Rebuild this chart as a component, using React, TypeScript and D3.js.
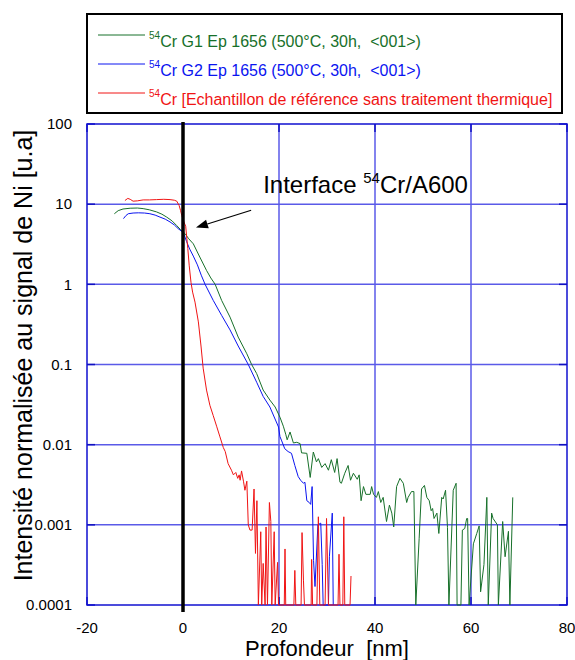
import React from "react";
import * as d3 from "d3";

// [depth nm, normalised intensity]; 0 = below axis (no signal)
const g1Data: [number, number][] = [
  [-14.3, 7.6], [-13.5, 8.3], [-12.5, 8.7], [-11, 8.9], [-9.5, 8.95], [-8.3, 8.8], [-7, 8.5], [-5.5, 8.0],
  [-4.4, 7.5], [-3.4, 6.9], [-2.3, 6.2], [-1.3, 5.4], [-0.5, 4.8], [0.4, 4.3], [1.2, 3.7], [2.15, 3.2],
  [3.5, 2.19], [4.9, 1.49], [5.8, 1.2], [6.7, 1.0], [8.05, 0.63], [9.8, 0.39], [11.5, 0.22], [13.3, 0.136],
  [14.3, 0.1], [15.35, 0.077], [16.7, 0.048], [18.1, 0.036], [19.2, 0.0295], [20.2, 0.022], [20.9, 0.017],
  [21.4, 0.0135], [21.7, 0.0115], [22.3, 0.0144], [23.0, 0.0105], [23.7, 0.0107], [24.4, 0.0103], [24.7, 0.0079],
  [25.8, 0.0078], [26.5, 0.0039], [27.15, 0.0081], [27.8, 0.0061], [28.2, 0.0067], [28.9, 0.0052], [29.6, 0.0058],
  [30.3, 0.0048], [30.9, 0.0065], [31.6, 0.0045], [32.1, 0.0067], [32.7, 0.0034], [33.0, 0.0033], [33.7, 0.0044],
  [34.4, 0.0055], [34.9, 0.0036], [35.5, 0.0044], [36.3, 0.0037], [36.7, 0.0042], [37.1, 0.002], [37.6, 0.003],
  [38.1, 0.0024], [39.0, 0.0024], [39.3, 0.003], [39.7, 0.0024], [40.3, 0.0022], [40.7, 0.0026], [41.2, 0.0019],
  [41.7, 0.0022], [42.4, 0.0011], [43.0, 0.00176], [43.5, 0.0014], [43.9, 0.00094], [44.5, 0.003], [45.2, 0.0038],
  [45.9, 0.0033], [46.6, 0.0019], [46.9, 0.0022], [47.6, 0.0026], [48.1, 0.0026], [48.5, 0], [49.2, 0.00068],
  [49.7, 0.0028], [50.3, 0.0031], [50.8, 0.0022], [51.3, 0.002], [51.7, 0.0015], [52.0, 0.0016], [52.3, 0.0012],
  [52.9, 0.0014], [53.3, 0.00078], [53.9, 0.0022], [54.2, 0.0021], [54.7, 0.0027], [55.1, 0.00093], [55.4, 0],
  [56.3, 0.0027], [56.9, 0.0033], [57.1, 0], [57.9, 0], [58.2, 0.00086], [58.7, 0.0009], [59.1, 0.0012],
  [59.3, 0.0012], [59.6, 0], [60.5, 0.00058], [61.2, 0.00078], [61.7, 0.00097], [62.0, 0.000146], [62.7, 0.00032],
  [63.3, 0.0022], [63.6, 0], [64.3, 0.0014], [64.6, 0.0012], [65.5, 0.001], [65.7, 0], [66.6, 0.0011],
  [67.1, 0.0004], [67.8, 0.00083], [68.1, 0], [68.7, 0.0022],
];

const g2Data: [number, number][] = [
  [-12.4, 6.6], [-11.9, 7.2], [-11.4, 7.6], [-10.4, 7.75], [-9.3, 7.8], [-8, 7.75], [-6.9, 7.6], [-5.8, 7.3],
  [-4.8, 6.9], [-3.7, 6.5], [-2.7, 6.0], [-1.8, 5.5], [-1, 4.95], [-0.3, 4.6], [0.2, 4.2], [0.76, 3.4],
  [1.4, 2.75], [2.15, 2.25], [3.0, 1.75], [3.8, 1.3], [4.6, 1.0], [6.3, 0.63], [8.05, 0.41], [9.8, 0.27],
  [11.5, 0.17], [13.6, 0.1], [15.35, 0.06], [16.7, 0.04], [18.1, 0.0295], [19.9, 0.0166], [20.2, 0.0126],
  [20.5, 0.0114], [21.2, 0.0089], [21.9, 0.0082], [22.6, 0.0078], [23.3, 0.0055], [24.0, 0.004], [24.5, 0.0036],
  [25.1, 0.0033], [25.4, 0.0034], [25.8, 0.002], [26.3, 0.0019], [26.6, 0.0018], [26.9, 0.003], [27.2, 0.00036],
  [27.5, 0.00017], [28.1, 0.001], [28.7, 0.00105], [29.0, 0.00032], [29.2, 0], [30.3, 0], [30.5, 0.0004],
  [31.1, 0.0014], [31.3, 0],
];

const refData: [number, number][] = [
  [-12.1, 11.1], [-11.5, 11.8], [-11.0, 11.5], [-10.4, 10.9], [-9.5, 11.0], [-8.3, 11.3], [-7, 11.3], [-5.5, 11.4],
  [-4, 11.5], [-2.7, 11.4], [-1.8, 11.2], [-1.3, 10.9], [-0.8, 9.6], [-0.5, 8.3], [-0.25, 7.2], [0.1, 6.2],
  [0.56, 5.3], [1.0, 2.8], [1.3, 1.7], [1.67, 1.05], [2.0, 0.8], [2.5, 0.6], [3.2, 0.34], [3.75, 0.17],
  [4.2, 0.09], [4.9, 0.048], [5.6, 0.031], [6.3, 0.023], [7.0, 0.017], [7.7, 0.0125], [8.4, 0.0092],
  [8.8, 0.0082], [9.4, 0.0058], [10.1, 0.0048], [10.5, 0.0042], [11.0, 0.0045], [11.4, 0.0038], [11.7, 0.0042],
  [11.9, 0.0036], [12.2, 0.0047], [12.6, 0.0035], [12.9, 0.0027], [13.3, 0.0035], [13.6, 0.001], [13.95, 0.00086],
  [14.4, 0.00086], [14.8, 0.0028], [15.1, 0.00044], [15.4, 0.002], [15.7, 0], [16.2, 0.00082], [16.4, 0],
  [16.7, 0.00033], [17.1, 0], [17.3, 0.00094], [17.6, 0], [18.0, 0.0019], [18.3, 0.0011], [18.5, 0],
  [19.0, 0.00082], [19.2, 0], [19.7, 0.00034], [19.9, 0], [21.1, 0], [21.25, 0.0005], [21.4, 0], [23.1, 0],
  [23.3, 0.00027], [23.5, 0], [24.6, 0], [24.8, 0.0008], [25.1, 0.0002], [25.3, 0], [26.7, 0], [26.8, 0.00037],
  [27.0, 0], [27.9, 0], [28.2, 0.00126], [28.5, 0], [29.6, 0], [29.9, 0.0012], [30.3, 0], [32.3, 0],
  [32.5, 0.00043], [32.7, 0], [33.3, 0], [33.5, 0.00126], [33.7, 0], [34.8, 0], [35.0, 0.00023],
];

const xTicks = [-20, 0, 20, 40, 60, 80];
const yTicks = [100, 10, 1, 0.1, 0.01, 0.001, 0.0001];
const yTickLabels = ["100", "10", "1", "0.1", "0.01", "0.001", "0.0001"];

const seriesNames = [
  "Cr G1 Ep 1656 (500°C, 30h,  <001>)",
  "Cr G2 Ep 1656 (500°C, 30h,  <001>)",
  "Cr [Echantillon de référence sans traitement thermique]",
];
const seriesColors = ["#17702a", "#0a14f0", "#f01414"];

// annotation anchor points in data units
const arrowTail: [number, number] = [14.2, 8.4];
const arrowHead: [number, number] = [2.7, 5.1];
const labelPos: [number, number] = [16.7, 13.6];

const FONT = "Arial, 'Liberation Sans', sans-serif";

export default function App() {
  const x = d3.scaleLinear().domain([-20, 80]).range([87, 567]);
  const y = d3.scaleLog().domain([0.0001, 100]).range([605, 124]).clamp(true);
  const yv = (v: number) => (v > 0 ? y(v) : y(0.0001));
  const line = d3
    .line<[number, number]>()
    .x((d) => x(d[0]))
    .y((d) => yv(d[1]));

  const gridColor = "#5a5ae8";
  const datasets = [g1Data, g2Data, refData];

  const hx = x(arrowHead[0]);
  const hy = y(arrowHead[1]);
  const tx = x(arrowTail[0]);
  const ty = y(arrowTail[1]);
  const ang = Math.atan2(hy - ty, hx - tx);
  const ah = 12;
  const aw = 4.5;
  const bx = hx - ah * Math.cos(ang);
  const by = hy - ah * Math.sin(ang);
  const arrowPts = [
    [hx, hy],
    [bx + aw * Math.sin(ang), by - aw * Math.cos(ang)],
    [bx - aw * Math.sin(ang), by + aw * Math.cos(ang)],
  ]
    .map((p) => p.join(","))
    .join(" ");

  const pre = { whiteSpace: "pre" as const };

  return (
    <svg
      width={575}
      height={660}
      style={{ position: "absolute", left: 0, top: 0, background: "#fff" }}
      fontFamily={FONT}
    >
      <rect x={0} y={0} width={575} height={660} fill="#fff" />
      {/* legend */}
      <rect x={87} y={14} width={475} height={99} fill="#fff" stroke="#000" strokeWidth={2} />
      {seriesNames.map((name, i) => {
        const ly = 35 + i * 29;
        return (
          <g key={name}>
            <line x1={98} x2={145} y1={ly} y2={ly} stroke={seriesColors[i]} strokeWidth={1} />
            <text x={149} y={ly + 12} fontSize={16} fill={seriesColors[i]} style={pre}>
              <tspan fontSize={10} dy={-8}>54</tspan>
              <tspan dy={8}>{name}</tspan>
            </text>
          </g>
        );
      })}

      {/* grid */}
      {yTicks.slice(1, -1).map((t) => (
        <line key={"gy" + t} x1={x(-20)} x2={x(80)} y1={y(t)} y2={y(t)} stroke={gridColor} strokeWidth={1.5} />
      ))}
      {xTicks.slice(1, -1).map((t) => (
        <line key={"gx" + t} x1={x(t)} x2={x(t)} y1={y(100)} y2={y(0.0001)} stroke={gridColor} strokeWidth={1.5} />
      ))}
      {/* inner ticks */}
      {yTicks.map((t) => (
        <g key={"ty" + t}>
          <line x1={x(-20)} x2={x(-20) + 8} y1={y(t)} y2={y(t)} stroke="#1010c0" strokeWidth={1.5} />
          <line x1={x(80) - 8} x2={x(80)} y1={y(t)} y2={y(t)} stroke="#1010c0" strokeWidth={1.5} />
        </g>
      ))}
      {xTicks.map((t) => (
        <g key={"tx" + t}>
          <line x1={x(t)} x2={x(t)} y1={y(0.0001)} y2={y(0.0001) - 8} stroke="#1010c0" strokeWidth={1.5} />
          <line x1={x(t)} x2={x(t)} y1={y(100)} y2={y(100) + 8} stroke="#1010c0" strokeWidth={1.5} />
        </g>
      ))}
      <rect
        x={x(-20)}
        y={y(100)}
        width={x(80) - x(-20)}
        height={y(0.0001) - y(100)}
        fill="none"
        stroke="#1010d0"
        strokeWidth={1.5}
      />

      {/* series */}
      {datasets.map((ds, i) => (
        <path key={i} d={line(ds) || ""} fill="none" stroke={seriesColors[i]} strokeWidth={1} strokeLinejoin="round" />
      ))}

      {/* interface line */}
      <line x1={x(0)} x2={x(0)} y1={y(100) - 2} y2={y(0.0001) + 7} stroke="#000" strokeWidth={3.5} />

      {/* annotation */}
      <line x1={tx} y1={ty} x2={bx} y2={by} stroke="#000" strokeWidth={1.2} />
      <polygon points={arrowPts} fill="#000" />
      <text x={x(labelPos[0])} y={y(labelPos[1])} fontSize={24} fill="#000" style={pre}>
        <tspan>Interface </tspan>
        <tspan fontSize={15} dy={-10}>54</tspan>
        <tspan dy={10}>Cr/A600</tspan>
      </text>

      {/* tick labels */}
      {yTicks.map((t, i) => (
        <text key={"yl" + t} x={72} y={y(t)} dy="0.35em" textAnchor="end" fontSize={15} fill="#000">
          {yTickLabels[i]}
        </text>
      ))}
      {xTicks.map((t) => (
        <text key={"xl" + t} x={x(t)} y={633} textAnchor="middle" fontSize={15} fill="#000">
          {t}
        </text>
      ))}

      {/* axis titles */}
      <text x={327} y={656} textAnchor="middle" fontSize={22} fill="#000" style={pre}>
        Profondeur  [nm]
      </text>
      <text
        transform={`translate(32, ${(y(100) + y(0.0001)) / 2 - 9}) rotate(-90)`}
        textAnchor="middle"
        fontSize={25}
        fill="#000"
      >
        Intensité normalisée au signal de Ni [u.a]
      </text>
    </svg>
  );
}
